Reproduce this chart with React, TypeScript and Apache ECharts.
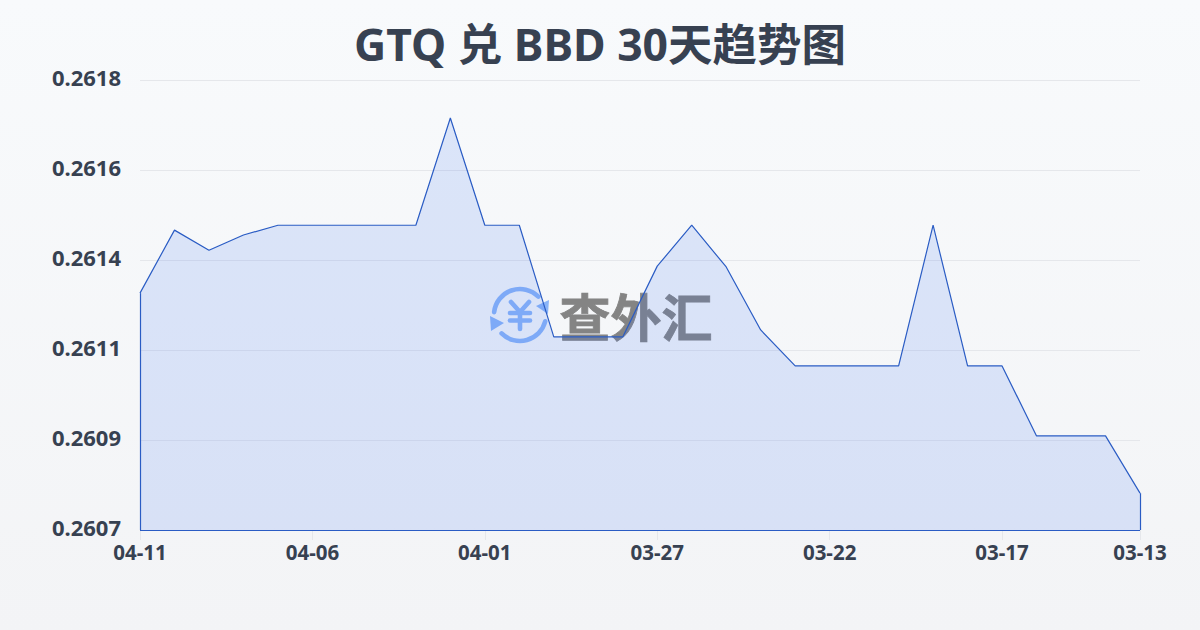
import React, { useEffect, useRef } from "react";
import * as echarts from "echarts";

const titleText = "GTQ 兑 BBD 30天趋势图";
const dates = ["04-11","04-10","04-09","04-08","04-07","04-06","04-05","04-04","04-03","04-02","04-01","03-31","03-30","03-29","03-28","03-27","03-26","03-25","03-24","03-23","03-22","03-21","03-20","03-19","03-18","03-17","03-16","03-15","03-14","03-13"];
const rates = [0.261279,0.261433,0.261384,0.261421,0.261445,0.261445,0.261445,0.261445,0.261445,0.261707,0.261445,0.261445,0.261172,0.261172,0.261172,0.261345,0.261445,0.261343,0.261189,0.261101,0.261101,0.261101,0.261101,0.261445,0.261101,0.261101,0.26093,0.26093,0.26093,0.26079];
const yMin = 0.2607;
const yMax = 0.2618;
const yStep = 0.00022;
const fontFamily = '"Noto Sans", "Noto Sans CJK SC", sans-serif';
const lineColor = "#2a5cc4";
const iconColor = "#8ab4f8";

export default function App() {
  const ref = useRef<HTMLDivElement>(null);
  useEffect(() => {
    const chart = echarts.init(ref.current!, null, { renderer: "svg" });
    const showTick = (i: number) => i % 5 === 0 || i === dates.length - 1;
    const last = dates.length - 1;
    const edge = (a: [string, number], b: [string, number]) => [{ coord: a }, { coord: b }];
    const iconStroke = { stroke: iconColor, lineWidth: 4.6, fill: "none", lineCap: "round", lineJoin: "round" };
    chart.setOption({
      animation: false,
      backgroundColor: {
        type: "linear", x: 0, y: 0, x2: 0, y2: 1,
        colorStops: [{ offset: 0, color: "#f8fafc" }, { offset: 1, color: "#f3f4f6" }],
      },
      title: {
        text: titleText, left: "center", top: 16,
        textStyle: { fontFamily, fontSize: 44.5, fontWeight: "bold", color: "#374151" },
      },
      grid: { left: 140, right: 60, top: 80, bottom: 100 },
      xAxis: {
        type: "category", boundaryGap: false, data: dates,
        axisLine: { show: false },
        axisTick: { show: true, length: 10, interval: (i: number) => showTick(i), lineStyle: { color: "#e5e7eb" } },
        axisLabel: {
          interval: (i: number) => showTick(i), hideOverlap: false,
          fontFamily, fontSize: 20.5, fontWeight: "bold", color: "#374151", margin: 12,
        },
      },
      yAxis: {
        type: "value", min: yMin, max: yMax, interval: yStep,
        axisLine: { show: false }, axisTick: { show: false },
        splitLine: { lineStyle: { color: "#e5e7eb", width: 1 } },
        axisLabel: {
          formatter: (v: number) => `{v|${v.toFixed(4)}}`,
          margin: 19,
          rich: { v: { fontFamily, fontSize: 22, fontWeight: "bold", color: "#374151", padding: [0, 0, 6, 0] } },
        },
      },
      series: [{
        type: "line", data: rates, symbol: "none", smooth: false, silent: true,
        lineStyle: { color: lineColor, width: 1.2 },
        areaStyle: { color: "rgba(59,116,239,0.15)", opacity: 1 },
        markLine: {
          silent: true, symbol: "none", label: { show: false },
          lineStyle: { color: lineColor, width: 1.2, type: "solid" },
          data: [
            edge([dates[0], rates[0]], [dates[0], yMin]),
            edge([dates[0], yMin], [dates[last], yMin]),
            edge([dates[last], yMin], [dates[last], rates[last]]),
          ],
        },
      }],
      graphic: [
        { type: "arc", silent: true, shape: { cx: 520, cy: 315, r: 26, startAngle: -3.03, endAngle: -0.785, clockwise: true }, style: iconStroke, z: 1 },
        { type: "arc", silent: true, shape: { cx: 520, cy: 315, r: 26, startAngle: 0.245, endAngle: 2.356, clockwise: true }, style: iconStroke, z: 1 },
        { type: "polygon", silent: true, shape: { points: [[549, 300], [536, 306], [548, 314]] }, style: { fill: iconColor }, z: 1 },
        { type: "polygon", silent: true, shape: { points: [[490, 316], [504, 323], [491, 331]] }, style: { fill: iconColor }, z: 1 },
        { type: "polyline", silent: true, shape: { points: [[511, 302], [520, 312], [529, 302]] }, style: iconStroke, z: 1 },
        { type: "line", silent: true, shape: { x1: 510, y1: 313, x2: 530, y2: 313 }, style: iconStroke, z: 1 },
        { type: "line", silent: true, shape: { x1: 510, y1: 320.5, x2: 530, y2: 320.5 }, style: iconStroke, z: 1 },
        { type: "line", silent: true, shape: { x1: 520, y1: 312, x2: 520, y2: 329 }, style: iconStroke, z: 1 },
        { type: "text", silent: true, x: 636, y: 315, style: { text: "查外汇", x: 0, y: 0, align: "center", verticalAlign: "middle", fontFamily: '"Noto Sans CJK SC"', fontSize: 51, fontWeight: "bold", fill: "#848484", stroke: "#848484", lineWidth: 0.8 }, z: 1 },
      ],
    });
    return () => chart.dispose();
  }, []);
  return <div ref={ref} style={{ position: "fixed", left: 0, top: 0, width: 1200, height: 630 }} />;
}
